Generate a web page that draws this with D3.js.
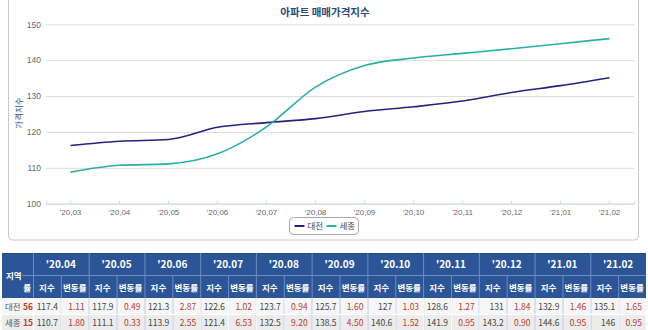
<!DOCTYPE html>
<html>
<head>
<meta charset="utf-8">
<script src="https://cdnjs.cloudflare.com/ajax/libs/d3/7.8.5/d3.min.js"></script>
<style>
  body { margin: 0; background: #fff; }
  svg { display: block; font-family: "Noto Sans CJK KR", "Noto Sans", sans-serif; }
</style>
</head>
<body>
<div id="chart"></div>
<script>
// chart data
const chartMonths = ["'20,03", "'20,04", "'20,05", "'20,06", "'20,07", "'20,08", "'20,09", "'20,10", "'20,11", "'20,12", "'21,01", "'21,02"];
const daejeon = [116.2, 117.4, 117.9, 121.3, 122.6, 123.7, 125.7, 127, 128.6, 131, 132.9, 135.1];
const sejong = [108.8, 110.7, 111.1, 113.9, 121.4, 132.5, 138.5, 140.6, 141.9, 143.2, 144.6, 146];
const yTicks = [100, 110, 120, 130, 140, 150];

// table data
const tableMonths = ["'20.04", "'20.05", "'20.06", "'20.07", "'20.08", "'20.09", "'20.10", "'20.11", "'20.12", "'21.01", "'21.02"];
const regions = ["대전", "세종"];
const ranks = [56, 15];
const daejeonIdx = ["117.4", "117.9", "121.3", "122.6", "123.7", "125.7", "127", "128.6", "131", "132.9", "135.1"];
const daejeonChg = ["1.11", "0.49", "2.87", "1.02", "0.94", "1.60", "1.03", "1.27", "1.84", "1.46", "1.65"];
const sejongIdx = ["110.7", "111.1", "113.9", "121.4", "132.5", "138.5", "140.6", "141.9", "143.2", "144.6", "146"];
const sejongChg = ["1.80", "0.33", "2.55", "6.53", "9.20", "4.50", "1.52", "0.95", "0.90", "0.95", "0.95"];

const W = 648, H = 330;
const navy = '#23237f', teal = '#2aaea8';

const svg = d3.select('#chart').append('svg')
  .attr('width', W)
  .attr('height', H);

// chart panel
svg.append('rect')
  .attr('x', 8.5).attr('y', -4)
  .attr('width', 630).attr('height', 244)
  .attr('rx', 4)
  .attr('fill', '#fff')
  .attr('stroke', '#c8c8c8');

svg.append('text')
  .attr('x', 325).attr('y', 16)
  .attr('text-anchor', 'middle')
  .attr('font-size', 10.5)
  .attr('font-weight', 600)
  .attr('fill', '#2d4878')
  .text('아파트 매매가격지수');

// scales
const x = d3.scaleBand().domain(chartMonths).range([46, 634]).padding(0);
const y = d3.scaleLinear().domain([100, 150]).range([203.7, 24.3]);
const cx = d => x(d) + x.bandwidth() / 2;

// y grid + labels
const yAxis = svg.append('g')
  .attr('transform', 'translate(46,0)')
  .call(d3.axisLeft(y).tickValues(yTicks).tickSize(-588).tickPadding(5).tickFormat(d3.format('d')));
yAxis.select('.domain').remove();
yAxis.selectAll('line').attr('stroke', '#dcdcdc');
yAxis.selectAll('text').attr('fill', '#666').attr('font-size', 8.5).attr('font-family', 'inherit');

// x axis
const xAxis = svg.append('g')
  .attr('transform', `translate(0,${y(100)})`)
  .call(d3.axisBottom(x).tickSize(-3).tickPadding(6));
xAxis.select('.domain').attr('stroke', '#cfd8e0');
xAxis.selectAll('line').attr('stroke', '#cfd8e0');
xAxis.selectAll('text').attr('fill', '#666').attr('font-size', 8).attr('font-family', 'inherit');

svg.append('text')
  .attr('transform', 'translate(22,113) rotate(-90)')
  .attr('text-anchor', 'middle')
  .attr('font-size', 8.5)
  .attr('fill', '#2d4f8a')
  .text('가격지수');

// lines
const line = d3.line()
  .x((d, i) => cx(chartMonths[i]))
  .y(d => y(d))
  .curve(d3.curveMonotoneX);

[[daejeon, navy], [sejong, teal]].forEach(([vals, col]) => {
  svg.append('path')
    .datum(vals)
    .attr('d', line)
    .attr('fill', 'none')
    .attr('stroke', col)
    .attr('stroke-width', 1.6);
});

// legend
const lg = svg.append('g').attr('transform', 'translate(289.5,217.5)');
lg.append('rect')
  .attr('width', 69).attr('height', 17).attr('rx', 4)
  .attr('fill', '#fff').attr('stroke', '#a8a8a8');
regions.forEach((r, i) => {
  const g = lg.append('g').attr('transform', `translate(${5 + i * 32},8.5)`);
  g.append('line').attr('x1', 0).attr('x2', 10)
    .attr('stroke', i === 0 ? navy : teal).attr('stroke-width', 2);
  g.append('text').attr('x', 13).attr('y', 3.2)
    .attr('font-size', 8.5).attr('fill', '#444').text(r);
});

// table
const tx = d3.scaleBand().domain(tableMonths).range([33, 646]);
const sub = d3.scaleBand().domain(['idx', 'chg']).range([0, tx.bandwidth()]).paddingInner(0);
const rowY = [253, 275.5, 298, 314, 330];
const hdr = '#2c5598', hdrLine = '#6d8cc0';
const t = svg.append('g');

// header background
t.append('rect').attr('x', 2).attr('y', rowY[0]).attr('width', 644).attr('height', rowY[2] - rowY[0]).attr('fill', hdr);
// data rows
t.append('rect').attr('x', 2).attr('y', rowY[2]).attr('width', 644).attr('height', rowY[3] - rowY[2]).attr('fill', '#f6f6f6');
t.append('rect').attr('x', 2).attr('y', rowY[3]).attr('width', 644).attr('height', rowY[4] - rowY[3]).attr('fill', '#ececec');

// header grid
t.append('line').attr('x1', 33).attr('x2', 646).attr('y1', rowY[1]).attr('y2', rowY[1]).attr('stroke', hdrLine);
t.append('line').attr('x1', 22).attr('x2', 33).attr('y1', rowY[1]).attr('y2', rowY[1]).attr('stroke', hdrLine);
t.append('line').attr('x1', 2).attr('x2', 646).attr('y1', rowY[0] + 0.5).attr('y2', rowY[0] + 0.5).attr('stroke', '#23477f');
tableMonths.forEach(m => {
  t.append('line').attr('x1', tx(m) + 0.5).attr('x2', tx(m) + 0.5)
    .attr('y1', rowY[0]).attr('y2', rowY[4]).attr('stroke', hdrLine);
  t.append('line').attr('x1', tx(m) + sub('chg') + 0.5).attr('x2', tx(m) + sub('chg') + 0.5)
    .attr('y1', rowY[1]).attr('y2', rowY[4]).attr('stroke', hdrLine);
  t.append('text').attr('x', tx(m) + tx.bandwidth() / 2).attr('y', rowY[0] + 15)
    .attr('text-anchor', 'middle').attr('font-size', 10).attr('font-weight', 700)
    .attr('fill', '#fff').text(m);
  t.append('text').attr('x', tx(m) + sub('idx') + sub.bandwidth() / 2).attr('y', rowY[1] + 15)
    .attr('text-anchor', 'middle').attr('font-size', 8.5).attr('font-weight', 700)
    .attr('fill', '#fff').text('지수');
  t.append('text').attr('x', tx(m) + sub('chg') + sub.bandwidth() / 2).attr('y', rowY[1] + 15)
    .attr('text-anchor', 'middle').attr('font-size', 8.5).attr('font-weight', 700)
    .attr('fill', '#fff').text('변동률');
});
// data-row column lines in light color
tableMonths.forEach(m => {
  [tx(m), tx(m) + sub('chg')].forEach(xx => {
    t.append('line').attr('x1', xx + 0.5).attr('x2', xx + 0.5)
      .attr('y1', rowY[2]).attr('y2', rowY[4]).attr('stroke', '#fff');
  });
});
t.append('line').attr('x1', 2).attr('x2', 646).attr('y1', rowY[3] + 0.5).attr('y2', rowY[3] + 0.5).attr('stroke', '#fff');

// first column header
t.append('text').attr('x', 6).attr('y', rowY[1] + 3).attr('font-size', 8.5).attr('font-weight', 700)
  .attr('fill', '#fff').text('지역');
t.append('text').attr('x', 31).attr('y', rowY[1] + 15).attr('text-anchor', 'end').attr('font-size', 8.5)
  .attr('font-weight', 700).attr('fill', '#fff').text('률');

// data rows
const rows = [[daejeonIdx, daejeonChg], [sejongIdx, sejongChg]];
rows.forEach(([idx, chg], r) => {
  const yy = rowY[2 + r] + 11.5;
  t.append('text').attr('x', 5).attr('y', yy).attr('font-size', 8.5).attr('fill', '#555').text(regions[r]);
  t.append('text').attr('x', 23).attr('y', yy).attr('font-size', 8.5).attr('font-weight', 700)
    .attr('fill', '#c0392b').text(ranks[r]);
  tableMonths.forEach((m, i) => {
    t.append('text').attr('x', tx(m) + sub('chg') - 3).attr('y', yy).attr('text-anchor', 'end')
      .attr('font-size', 8.5).attr('fill', '#444').text(idx[i]);
    t.append('text').attr('x', tx(m) + tx.bandwidth() - 4).attr('y', yy).attr('text-anchor', 'end')
      .attr('font-size', 8.5).attr('fill', '#c0392b').text(chg[i]);
  });
});
</script>
</body>
</html>
